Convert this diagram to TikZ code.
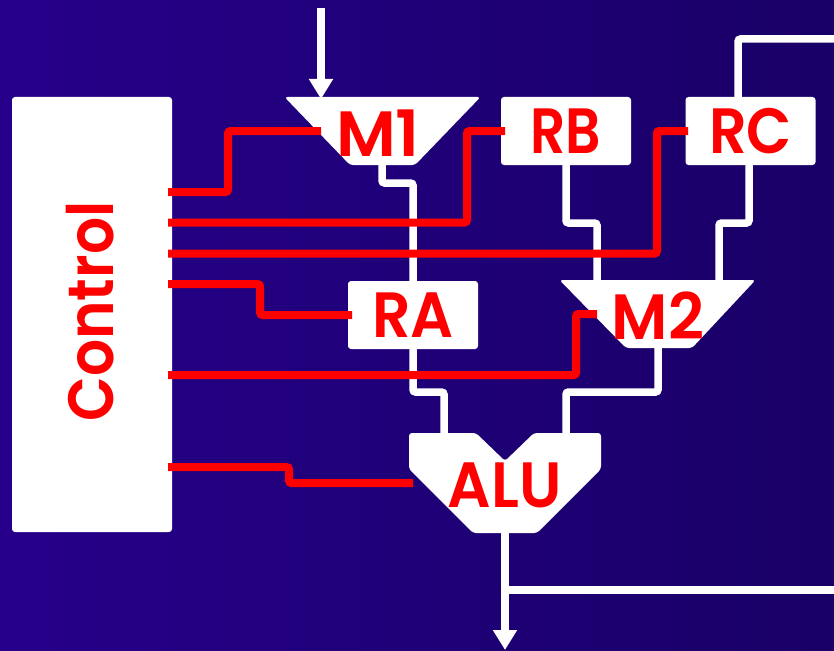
\documentclass[tikz,border=0pt]{standalone}
\usepackage{fontspec}
\setmainfont[BoldFont={Poppins SemiBold}]{Poppins}
\usetikzlibrary{arrows.meta}
\definecolor{bgL}{HTML}{26008A}
\definecolor{bgR}{HTML}{190066}
\tikzset{
  x=1pt,y=-1pt,
  unit/.style={fill=white,rounded corners=3pt},
  reg/.style={unit,draw=none,minimum width=130pt,minimum height=68pt,inner sep=0pt,text=red,font=\fontsize{64}{64}\selectfont\bfseries},
  lbl/.style={inner sep=0pt,text=red,font=\fontsize{64}{64}\selectfont\bfseries},
  wire/.style={draw=white,line width=7.5pt,rounded corners=2.5pt},
  ctl/.style={draw=red,line width=8pt,rounded corners=2.5pt},
  bigarrow/.style={-{Triangle[width=23pt,length=20pt]},color=white,line width=7.5pt}
}
\begin{document}
\begin{tikzpicture}
\useasboundingbox (0,0) rectangle (834,650);
\shade[left color=bgL,right color=bgR] (0,0) rectangle (834,650);
% wire end coordinates
\coordinate (inTop) at (321,8);
\coordinate (m1in) at (321,99);
\coordinate (m1out) at (382,165);
\coordinate (raIn) at (413,281);
\coordinate (raOut) at (413,349);
\coordinate (rbOut) at (566,165);
\coordinate (rcOut) at (749,165);
\coordinate (rcIn) at (738,97);
\coordinate (fbTop) at (834,39);
\coordinate (fbBot) at (834,590);
\coordinate (fbJoin) at (505,590);
\coordinate (m2inL) at (597,280);
\coordinate (m2inR) at (719,280);
\coordinate (m2out) at (658,348);
\coordinate (aluL) at (444,433);
\coordinate (aluR) at (566,433);
\coordinate (aluOut) at (505,533);
\coordinate (outEnd) at (505,650);
% white wires
\draw[bigarrow] (inTop) -- (m1in);
\draw[wire] (m1out) |- (413,183) -- (raIn);
\draw[wire] (raOut) |- (444,392) -- (aluL);
\draw[wire] (m2out) |- (566,392) -- (aluR);
\draw[wire] (rbOut) |- (597,223) -- (m2inL);
\draw[wire] (rcOut) |- (719,223) -- (m2inR);
\draw[wire] (rcIn) |- (fbTop);
\draw[bigarrow] (aluOut) -- (outEnd);
\draw[wire,rounded corners=0pt] (fbJoin) -- (fbBot);
% units
\node[unit,minimum width=160pt,minimum height=435pt,inner sep=0pt] (control) at (92,314.5) {};
\fill[unit] (284.5,97) -- (480.5,97) -- (415,165) -- (350,165) -- cycle;
\fill[unit] (559.5,280) -- (755.5,280) -- (692,348) -- (626,348) -- cycle;
\fill[unit] (409,433) -- (476,433) -- (505,461) -- (534,433) -- (601,433) -- (601,469) -- (537,533) -- (473,533) -- (409,469) -- cycle;
\node[reg] (rb) at (566,131) {\scalebox{0.86}[1]{RB}};
\node[reg] (rc) at (750.5,131) {\scalebox{0.92}[1]{RC}};
\node[reg] (ra) at (413,315) {\scalebox{0.94}[1]{RA}};
% control lines
\coordinate (c1) at (168,192);
\coordinate (c2) at (168,222.5);
\coordinate (c3) at (168,253.5);
\coordinate (c4) at (168,284);
\coordinate (c5) at (168,375);
\coordinate (c6) at (168,467);
\coordinate (m1sel) at (321,131);
\coordinate (rbsel) at (505,131);
\coordinate (rcsel) at (688,131);
\coordinate (rasel) at (352,315);
\coordinate (m2sel) at (597,314);
\coordinate (alusel) at (413,483);
\draw[ctl] (c1) -| (228,131) -- (m1sel);
\draw[ctl] (c2) -| (467,131) -- (rbsel);
\draw[ctl] (c3) -| (657,131) -- (rcsel);
\draw[ctl] (c4) -| (260,315) -- (rasel);
\draw[ctl] (c5) -| (576,314) -- (m2sel);
\draw[ctl] (c6) -| (289,483) -- (alusel);
% labels
\node[lbl] (m1) at (378,133) {\scalebox{1.04}[1]{M1}};
\node[lbl] (m2) at (658,316) {\scalebox{0.98}[1]{M2}};
\node[lbl] (alu) at (504.5,485) {\scalebox{0.95}[1]{ALU}};
\node[lbl,rotate=90] (controlText) at (90,311.5) {\scalebox{0.91}[1]{Control}};
\end{tikzpicture}
\end{document}
